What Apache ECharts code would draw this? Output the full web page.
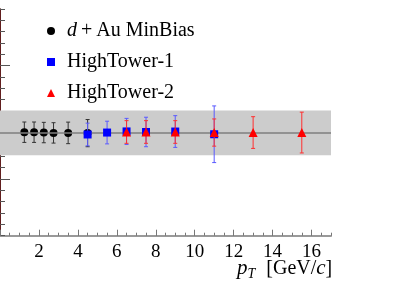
<!DOCTYPE html>
<html><head><meta charset="utf-8">
<script src="https://cdn.jsdelivr.net/npm/echarts@6/dist/echarts.min.js"></script>
<style>html,body{margin:0;padding:0;background:#fff}#c{width:415px;height:284px}</style>
</head><body><div id="c"></div>
<script>
// ---- data ----
const mbX = [1.25, 1.75, 2.25, 2.75, 3.5, 4.5];
const mbY = [0.913, 0.913, 0.910, 0.907, 0.907, 0.905];
const mbErr = [0.09, 0.09, 0.09, 0.09, 0.095, 0.12];

const ht1X = [4.5, 5.5, 6.5, 7.5, 9, 11];
const ht1Y = [0.893, 0.910, 0.920, 0.915, 0.919, 0.895];
const ht1Err = [0.10, 0.10, 0.115, 0.13, 0.14, 0.25];

const ht2X = [6.5, 7.5, 9, 11, 13, 15.5];
const ht2Y = [0.915, 0.915, 0.915, 0.910, 0.910, 0.910];
const ht2Err = [0.10, 0.10, 0.10, 0.12, 0.14, 0.18];

const seriesNames = ['d+Au MinBias', 'HighTower-1', 'HighTower-2'];
const refLine = 0.907;
const bandLow = 0.71, bandHigh = 1.104;
const xTickLabels = [2, 4, 6, 8, 10, 12, 14, 16];

// ---- build ----
const FONT = 'Liberation Serif';
function pts(xs, ys) { return xs.map((x, i) => [x, ys[i]]); }
function errs(xs, ys, es) { return xs.map((x, i) => [x, ys[i], es[i]]); }
function errSeries(data, color, z) {
  return {
    type: 'custom', xAxisIndex: 0, yAxisIndex: 0, z: z, silent: true,
    data: data, encode: { x: 0, y: 1 },
    renderItem: function (params, api) {
      const x = api.value(0), y = api.value(1), e = api.value(2);
      const ph = api.coord([x, y + e]);
      const pl = api.coord([x, y - e]);
      const cx = ph[0], cap = 2;
      const st = { stroke: color, lineWidth: 1 };
      return { type: 'group', children: [
        { type: 'line', shape: { x1: cx, y1: ph[1], x2: cx, y2: pl[1] }, style: st },
        { type: 'line', shape: { x1: cx - cap, y1: ph[1], x2: cx + cap, y2: ph[1] }, style: st },
        { type: 'line', shape: { x1: cx - cap, y1: pl[1], x2: cx + cap, y2: pl[1] }, style: st }
      ]};
    }
  };
}

const chart = echarts.init(document.getElementById('c'), null, { renderer: 'canvas' });
const noAxis = { show: false };
chart.setOption({
  animation: false,
  grid: { left: 0, top: 9, width: 331, height: 226.7, containLabel: false, outerBoundsMode: 'none' },
  legend: {
    orient: 'vertical', left: 42, top: 15, itemGap: 9, itemWidth: 8, itemHeight: 8,
    data: seriesNames,
    formatter: function (n) { return n === 'd+Au MinBias' ? '{i|d}\u2009+\u2009Au MinBias' : n; },
    textStyle: {
      fontFamily: FONT, fontSize: 20, color: '#000', lineHeight: 22, padding: [0, 0, 0, 7],
      rich: { i: { fontFamily: FONT, fontSize: 20, fontStyle: 'italic', color: '#000' } }
    }
  },
  xAxis: [
    {
      type: 'value', min: 0, max: 17, interval: 2, position: 'bottom',
      axisLine: { show: true, lineStyle: { color: '#8b1a1a', width: 1 } },
      axisTick: { show: true, inside: true, length: 6, lineStyle: { color: '#777' } },
      splitLine: { show: false },
      axisLabel: {
        margin: 7, fontFamily: FONT, fontSize: 19, color: '#000', showMaxLabel: false,
        formatter: function (v) { return xTickLabels.indexOf(v) >= 0 ? String(v) : ''; }
      },
      name: '{i|p}{s|T} [GeV/{i|c}]', nameLocation: 'end', nameGap: -94, nameMoveOverlap: false,
      nameTextStyle: {
        fontFamily: FONT, fontSize: 20, color: '#000', align: 'left', verticalAlign: 'top',
        padding: [20, 0, 0, 0],
        rich: {
          i: { fontFamily: FONT, fontSize: 21, fontStyle: 'italic', color: '#000' },
          s: { fontFamily: FONT, fontSize: 14, fontStyle: 'italic', color: '#000', padding: [12, 6, 0, 0] }
        }
      }
    },
    {
      type: 'value', min: 0, max: 17, interval: 0.5, position: 'bottom',
      axisLine: noAxis, axisLabel: noAxis, splitLine: noAxis,
      axisTick: { show: true, inside: true, length: 3, lineStyle: { color: '#777' } }
    },
    {
      type: 'value', min: 0, max: 17, position: 'top',
      axisLine: { show: true, lineStyle: { color: '#999', width: 2 } },
      axisTick: noAxis, axisLabel: noAxis, splitLine: noAxis
    }
  ],
  yAxis: [
    {
      type: 'value', min: 0, max: 2, interval: 0.1, position: 'left',
      axisLine: { show: true, lineStyle: { color: '#777', width: 1 } },
      axisTick: { show: true, inside: true, length: 5, lineStyle: { color: '#555' } },
      axisLabel: noAxis, splitLine: noAxis
    },
    {
      type: 'value', min: 0, max: 2, position: 'left',
      axisLine: noAxis, axisLabel: noAxis, splitLine: noAxis,
      axisTick: { show: true, inside: true, length: 10, customValues: [0.5, 1.5], lineStyle: { color: '#555' } }
    },
    {
      type: 'value', min: 0, max: 2, position: 'right',
      axisLine: { show: true, lineStyle: { color: '#5a0000', width: 1.5 } },
      axisTick: noAxis, axisLabel: noAxis, splitLine: noAxis
    }
  ],
  series: [
    {
      type: 'line', name: '_band', data: [], z: 0, silent: true,
      markArea: { silent: true, itemStyle: { color: '#cccccc', opacity: 1 },
        data: [[{ yAxis: bandLow }, { yAxis: bandHigh }]] },
      markLine: { silent: true, symbol: 'none', label: { show: false },
        lineStyle: { color: '#7f7f7f', width: 1.5, type: 'solid' },
        data: [{ yAxis: refLine }] }
    },
    errSeries(errs(mbX, mbY, mbErr), '#333333', 3),
    { type: 'scatter', name: seriesNames[0], data: pts(mbX, mbY), symbol: 'circle', symbolSize: 8,
      itemStyle: { color: '#000', opacity: 1 }, z: 4 },
    errSeries(errs(ht1X, ht1Y, ht1Err), '#5a5aff', 5),
    { type: 'scatter', name: seriesNames[1], data: pts(ht1X, ht1Y), symbol: 'rect', symbolSize: 8,
      itemStyle: { color: '#0000ff', opacity: 1 }, z: 6 },
    errSeries(errs(ht2X, ht2Y, ht2Err), '#ff3030', 7),
    { type: 'scatter', name: seriesNames[2], data: pts(ht2X, ht2Y), symbol: 'triangle', symbolSize: 9,
      itemStyle: { color: '#ff0000', opacity: 1 }, z: 8 }
  ]
});
</script>
</body></html>
